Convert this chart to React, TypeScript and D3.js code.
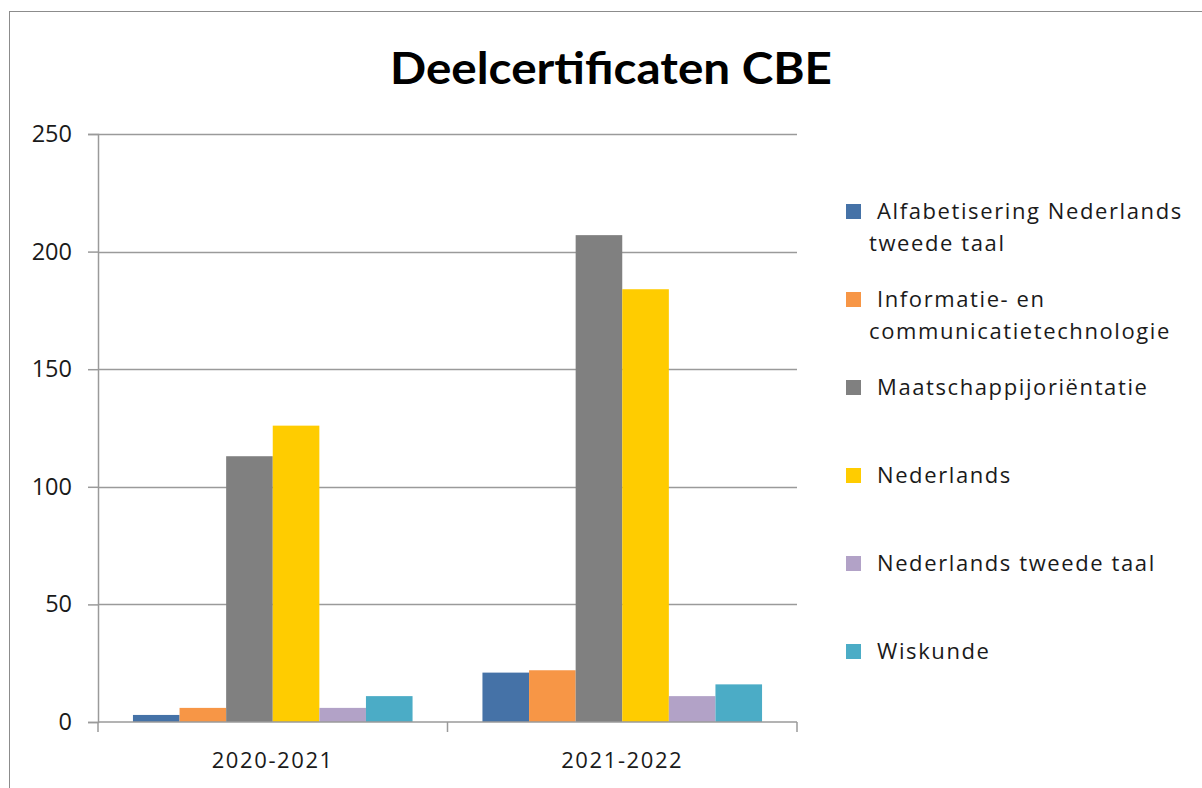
import React, { useEffect, useRef } from 'react';
import * as d3 from 'd3';

const years = ['2020-2021', '2021-2022'];
const seriesNames = [
  'Alfabetisering Nederlands tweede taal',
  'Informatie- en communicatietechnologie',
  'Maatschappijoriëntatie',
  'Nederlands',
  'Nederlands tweede taal',
  'Wiskunde',
];
const legendLines = [
  ['Alfabetisering Nederlands', 'tweede taal'],
  ['Informatie- en', 'communicatietechnologie'],
  ['Maatschappijoriëntatie'],
  ['Nederlands'],
  ['Nederlands tweede taal'],
  ['Wiskunde'],
];
const values2020 = [3, 6, 113, 126, 6, 11];
const values2021 = [21, 22, 207, 184, 11, 16];
const colors = ['#4572A7', '#F79646', '#808080', '#FFCC00', '#B2A2C7', '#4BACC6'];
const yTicks = [0, 50, 100, 150, 200, 250];

const W = 1202;
const H = 788;
const TITLE_FONT = 'Lato, "Open Sans", sans-serif';
const FONT = '"Open Sans", Lato, sans-serif';

const App = () => {
  const svgRef = useRef<SVGSVGElement>(null);

  useEffect(() => {
    const svg = d3.select(svgRef.current);
    svg.selectAll('*').remove();

    const plot = { left: 98, right: 797, top: 134, bottom: 722 };
    const table = [values2020, values2021];

    const x = d3.scaleBand().domain(years).range([plot.left, plot.right]).padding(0);
    const inner = d3.scaleBand()
      .domain(seriesNames)
      .range([0, x.bandwidth()])
      .paddingOuter(0.75)
      .paddingInner(0);
    const y = d3.scaleLinear().domain([0, 250]).range([plot.bottom, plot.top]);

    svg.append('rect')
      .attr('width', W).attr('height', H).attr('fill', '#fff');

    // outer chart border (right/bottom fall outside the picture)
    svg.append('rect')
      .attr('x', 9.5).attr('y', 11.5)
      .attr('width', W + 20).attr('height', H + 20)
      .attr('fill', 'none').attr('stroke', '#8c8c8c').attr('stroke-width', 1);

    svg.append('text')
      .attr('x', 611).attr('y', 84)
      .attr('text-anchor', 'middle')
      .attr('font-family', TITLE_FONT)
      .attr('font-weight', 700)
      .attr('font-size', 44)
      .attr('textLength', 442)
      .attr('lengthAdjust', 'spacingAndGlyphs')
      .attr('fill', '#000')
      .text('Deelcertificaten CBE');

    // gridlines
    svg.append('g')
      .selectAll('line')
      .data(yTicks.filter(t => t > 0))
      .join('line')
      .attr('x1', plot.left).attr('x2', plot.right)
      .attr('y1', d => Math.round(y(d)) + 0.5).attr('y2', d => Math.round(y(d)) + 0.5)
      .attr('stroke', '#9a9a9a').attr('stroke-width', 1.5);

    // bars
    svg.append('g')
      .selectAll('g')
      .data(table)
      .join('g')
      .attr('transform', (_, i) => `translate(${x(years[i])},0)`)
      .selectAll('rect')
      .data(d => d)
      .join('rect')
      .attr('x', (_, j) => inner(seriesNames[j]))
      .attr('y', d => y(d))
      .attr('width', inner.bandwidth())
      .attr('height', d => plot.bottom - y(d))
      .attr('fill', (_, j) => colors[j]);

    const textStyle = (sel: any) => sel
      .attr('font-family', FONT)
      .attr('font-size', 22)
      .attr('letter-spacing', 1.6)
      .attr('fill', '#1a1a1a');

    // y axis
    const yAxis = svg.append('g')
      .attr('transform', `translate(${plot.left},0)`)
      .call(d3.axisLeft(y).tickValues(yTicks).tickSize(10).tickPadding(16).tickFormat(d3.format('d')));
    yAxis.selectAll('path, line').attr('stroke', '#9a9a9a').attr('stroke-width', 1.5);
    yAxis.selectAll('text')
      .attr('font-family', FONT)
      .attr('font-size', 23.5)
      .attr('fill', '#1a1a1a');

    // x axis
    const xAxis = svg.append('g').attr('transform', `translate(0,${plot.bottom})`);
    xAxis.append('line')
      .attr('x1', plot.left).attr('x2', plot.right)
      .attr('stroke', '#9a9a9a').attr('stroke-width', 1.5);
    xAxis.selectAll('line.tick')
      .data([plot.left, plot.left + x.bandwidth(), plot.right])
      .join('line')
      .attr('class', 'tick')
      .attr('x1', d => d).attr('x2', d => d)
      .attr('y1', 0).attr('y2', 10)
      .attr('stroke', '#9a9a9a').attr('stroke-width', 1.5);
    xAxis.selectAll('text')
      .data(years)
      .join('text')
      .attr('x', d => x(d) + x.bandwidth() / 2)
      .attr('y', 46)
      .attr('text-anchor', 'middle')
      .call(textStyle)
      .text(d => d);

    // legend
    const rowY = d3.scalePoint().domain(seriesNames).range([211, 651]);
    const legend = svg.append('g')
      .selectAll('g')
      .data(seriesNames)
      .join('g')
      .attr('transform', d => `translate(0,${rowY(d)})`);
    legend.append('rect')
      .attr('x', 846).attr('y', -7)
      .attr('width', 15).attr('height', 15)
      .attr('fill', (_, i) => colors[i]);
    legend.each(function (_, i) {
      const g = d3.select(this);
      legendLines[i].forEach((line, k) => {
        g.append('text')
          .attr('x', k === 0 ? 877 : 869)
          .attr('y', k * 32 + 8)
          .call(textStyle)
          .text(line);
      });
    });
  }, []);

  return (
    <div style={{ position: 'absolute', left: 0, top: 0 }}>
      <svg ref={svgRef} width={W} height={H}></svg>
    </div>
  );
};

export default App;
